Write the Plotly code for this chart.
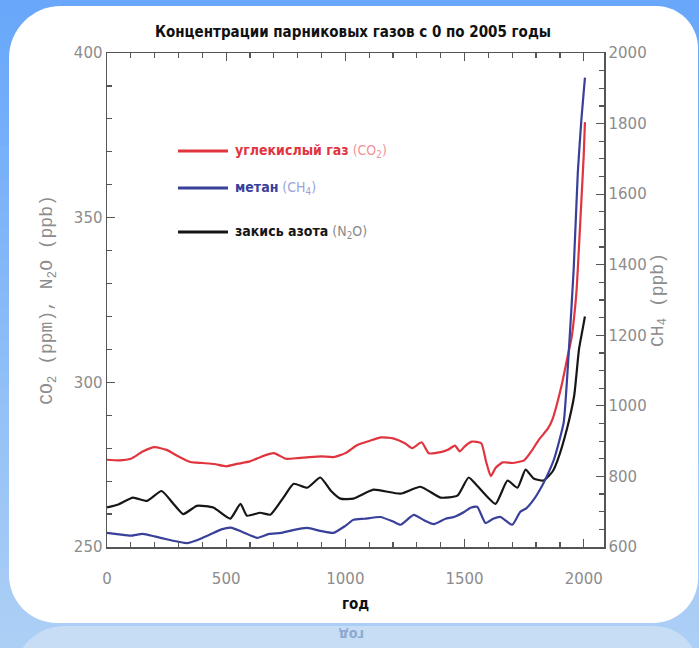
import plotly.graph_objects as go

# ---------------- data ----------------
co2_years = [0, 50, 100, 150, 200, 250, 300, 350, 400, 450, 500, 550, 600, 650, 700,
             750, 800, 850, 900, 950, 1000, 1050, 1100, 1150, 1200, 1250, 1280, 1320,
             1350, 1400, 1430, 1460, 1480, 1500, 1530, 1570, 1590, 1610, 1630, 1660,
             1700, 1750, 1780, 1810, 1850, 1870, 1890, 1910, 1930, 1950, 1960, 1970,
             1980, 1990, 2000, 2005]
co2_ppm = [276.5, 276.3, 276.8, 279.0, 280.3, 279.5, 277.5, 275.8, 275.5, 275.2, 274.5,
           275.3, 276.0, 277.5, 278.5, 276.8, 277.0, 277.3, 277.5, 277.3, 278.5, 281.0,
           282.2, 283.3, 283.0, 281.5, 280.0, 281.8, 278.5, 278.8, 279.5, 280.8, 279.0,
           280.5, 282.0, 281.5, 276.0, 271.5, 274.0, 275.7, 275.5, 276.3, 279.0, 282.4,
           286.0, 289.0, 294.0, 300.0, 307.0, 314.0, 320.0, 328.0, 341.0, 355.0, 369.0,
           379.0]

ch4_years = [0, 50, 100, 150, 200, 250, 300, 336, 380, 430, 480, 520, 570, 630, 680,
             730, 780, 840, 900, 950, 1000, 1034, 1080, 1147, 1200, 1231, 1287, 1330,
             1371, 1420, 1455, 1500, 1525, 1553, 1588, 1620, 1651, 1700, 1734, 1760,
             1790, 1810, 1832, 1855, 1875, 1895, 1916, 1937, 1958, 1975, 1990, 2005]
ch4_ppb = [640, 636, 632, 637, 630, 622, 615, 611, 620, 635, 650, 655, 642, 626, 637,
           640, 648, 654, 645, 640, 660, 677, 680, 685, 672, 663, 691, 676, 665, 680,
           685, 700, 711, 714, 668, 680, 685, 663, 700, 710, 734, 755, 782, 815, 848,
           895, 953, 1150, 1390, 1660, 1810, 1930]

n2o_years = [0, 50, 109, 168, 229, 280, 320, 377, 446, 517, 560, 587, 643, 685, 740,
             783, 840, 895, 940, 979, 1034, 1118, 1231, 1315, 1399, 1470, 1517, 1553,
             1630, 1680, 1722, 1756, 1790, 1832, 1870, 1890, 1930, 1960, 1980, 1995, 2005]
n2o_ppb = [262.0, 263.0, 265.0, 264.0, 267.0, 263.0, 260.0, 262.5, 262.0, 258.6, 263.1,
           259.5, 260.4, 259.8, 265.0, 269.2, 268.0, 271.1, 267.0, 264.7, 264.7, 267.4,
           266.2, 268.3, 265.0, 265.6, 271.1, 268.6, 263.1, 270.2, 268.0, 273.5, 270.8,
           270.2, 273.0, 276.3, 286.0, 296.0, 310.0, 316.0, 320.0]

x_ticks = [0, 500, 1000, 1500, 2000]
left_ticks = [250, 300, 350, 400]
right_ticks = [600, 800, 1000, 1200, 1400, 1600, 1800, 2000]

title_text = "Концентрации парниковых газов с 0 по 2005 годы"
legend_names = ["углекислый газ", "метан", "закись азота"]
legend_formulas = ["(CO<sub>2</sub>)", "(CH<sub>4</sub>)", "(N<sub>2</sub>O)"]

RED = "#e0353f"
BLUE = "#39409a"
BLACK = "#161616"

# ---------------- geometry helpers (pixels -> paper) ----------------
W, H = 699, 648
L, R, T, B = 107, 604, 53, 547


def px(X):
    return (X - L) / (R - L)


def py(Y):
    return (B - Y) / (B - T)


def rounded_rect(x0, y0, x1, y1, rtl, rtr, rbr, rbl):
    k = 0.5523
    def P(X, Y):
        return f"{px(X):.5f},{py(Y):.5f}"
    d = f"M {P(x0 + rtl, y0)} L {P(x1 - rtr, y0)} "
    d += f"C {P(x1 - rtr + k * rtr, y0)} {P(x1, y0 + rtr - k * rtr)} {P(x1, y0 + rtr)} "
    d += f"L {P(x1, y1 - rbr)} "
    d += f"C {P(x1, y1 - rbr + k * rbr)} {P(x1 - rbr + k * rbr, y1)} {P(x1 - rbr, y1)} "
    d += f"L {P(x0 + rbl, y1)} "
    d += f"C {P(x0 + rbl - k * rbl, y1)} {P(x0, y1 - rbl + k * rbl)} {P(x0, y1 - rbl)} "
    d += f"L {P(x0, y0 + rtl)} "
    d += f"C {P(x0, y0 + rtl - k * rtl)} {P(x0 + rtl - k * rtl, y0)} {P(x0 + rtl, y0)} Z"
    return d


shapes = []
# vertical blue gradient background
top_c = (104, 167, 250)
bot_c = (172, 207, 245)
n_bands = 40
for i in range(n_bands):
    t = i / (n_bands - 1)
    c = tuple(int(round(top_c[j] + (bot_c[j] - top_c[j]) * t)) for j in range(3))
    y0 = H * i / n_bands
    y1 = H * (i + 1) / n_bands + 1
    shapes.append(dict(type="rect", xref="paper", yref="paper", layer="below",
                       x0=px(-5), x1=px(W + 5), y0=py(y1), y1=py(y0),
                       fillcolor=f"rgb{c}", line=dict(width=0)))
# reflection panel
shapes.append(dict(type="path", xref="paper", yref="paper", layer="below",
                   path=rounded_rect(14, 626, 699, 700, 50, 45, 0, 0),
                   fillcolor="#c7dcf5", line=dict(width=0)))
# white card
shapes.append(dict(type="path", xref="paper", yref="paper", layer="below",
                   path=rounded_rect(9, 6, 698, 623, 52, 42, 45, 48),
                   fillcolor="white", line=dict(width=0)))

# legend samples
legend_y = [151, 188, 232]
colors = [RED, BLUE, BLACK]
light = ["#f2939a", "#9aa2d8", "#8a8a8a"]
annotations = []
for name, formula, yy, col, lc in zip(legend_names, legend_formulas, legend_y, colors, light):
    shapes.append(dict(type="line", xref="paper", yref="paper",
                       x0=px(178), x1=px(228), y0=py(yy), y1=py(yy),
                       line=dict(color=col, width=3)))
    annotations.append(dict(
        xref="paper", yref="paper", x=px(233), y=py(yy), xanchor="left", yanchor="middle",
        showarrow=False,
        text=f"<b>{name}</b> <span style='color:{lc}'>{formula}</span>",
        font=dict(family="DejaVu Sans Condensed, Liberation Sans Narrow, DejaVu Sans",
                  size=14, color=col)))

# faint reflection of the x-axis title
annotations.append(dict(xref="paper", yref="paper", x=px(352), y=py(635),
                        xanchor="center", yanchor="middle", showarrow=False,
                        text="<b>год</b>", textangle=180,
                        font=dict(family="DejaVu Sans Condensed, DejaVu Sans",
                                  size=14, color="#8da9cf")))

fig = go.Figure()
line_kw = dict(width=2.2, shape="spline", smoothing=0.5)
fig.add_trace(go.Scatter(x=co2_years, y=co2_ppm, mode="lines", name="CO2",
                         line=dict(color=RED, **line_kw), yaxis="y"))
fig.add_trace(go.Scatter(x=ch4_years, y=ch4_ppb, mode="lines", name="CH4",
                         line=dict(color=BLUE, **line_kw), yaxis="y2"))
fig.add_trace(go.Scatter(x=n2o_years, y=n2o_ppb, mode="lines", name="N2O",
                         line=dict(color=BLACK, **line_kw), yaxis="y"))

tick_font = dict(family="DejaVu Sans", size=15, color="#8c8c8c")
axis_col = "#555555"

fig.update_layout(
    width=W, height=H, autosize=False,
    margin=dict(l=L, r=W - R, t=T, b=H - B),
    paper_bgcolor="rgb(104,167,250)",
    plot_bgcolor="white",
    showlegend=False,
    hovermode=False,
    shapes=shapes,
    annotations=annotations,
    title=dict(text=f"<b>{title_text}</b>", x=0.505, xref="container",
               y=1 - 32 / H, yref="container", xanchor="center", yanchor="middle",
               font=dict(family="DejaVu Sans Condensed, Liberation Sans Narrow, DejaVu Sans",
                         size=15, color="#111111")),
    xaxis=dict(range=[0, 2085], tickvals=x_ticks, ticktext=[str(v) for v in x_ticks],
               ticks="inside", ticklen=8, tickwidth=1.2, tickcolor=axis_col,
               ticklabelstandoff=17,
               minor=dict(dtick=100, ticks="inside", ticklen=5, tickcolor=axis_col),
               showline=True, linecolor=axis_col, linewidth=1.5, mirror="ticks",
               showgrid=False, zeroline=False, tickfont=tick_font,
               title=dict(text="<b>год</b>", standoff=12,
                          font=dict(family="DejaVu Sans Condensed, DejaVu Sans",
                                    size=15, color="#111111"))),
    yaxis=dict(range=[250, 400], tickvals=left_ticks, ticks="inside", ticklen=8,
               tickwidth=1.2, tickcolor=axis_col,
               minor=dict(dtick=10, ticks="inside", ticklen=5, tickcolor=axis_col),
               showline=True, linecolor=axis_col, linewidth=1.5,
               showgrid=False, zeroline=False, tickfont=tick_font,
               title=dict(text="CO<sub>2</sub> (ppm), N<sub>2</sub>O (ppb)", standoff=16,
                          font=dict(family="Liberation Mono, DejaVu Sans Mono",
                                    size=18, color="#8c8c8c"))),
    yaxis2=dict(range=[600, 2000], tickvals=right_ticks, overlaying="y", side="right",
                ticks="inside", ticklen=8, tickwidth=1.2, tickcolor=axis_col,
                minor=dict(dtick=50, ticks="inside", ticklen=5, tickcolor=axis_col),
                showline=True, linecolor=axis_col, linewidth=1.5,
                showgrid=False, zeroline=False, tickfont=tick_font,
                title=dict(text="CH<sub>4</sub> (ppb)", standoff=4,
                           font=dict(family="Liberation Mono, DejaVu Sans Mono",
                                     size=18, color="#8c8c8c"))),
)

fig.write_html("out.html",
               config={"displayModeBar": False, "staticPlot": True},
               post_script="document.body.style.margin='0';"
                           "document.body.style.overflow='hidden';")
